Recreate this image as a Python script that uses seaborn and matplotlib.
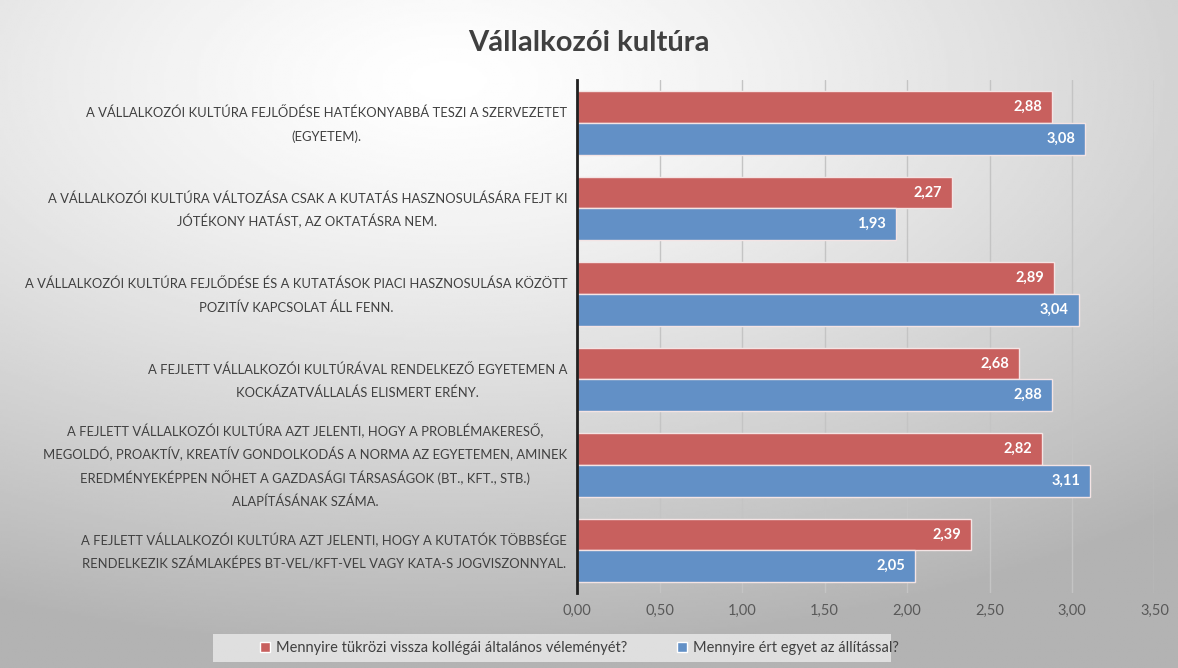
import numpy as np
import pandas as pd
import matplotlib
matplotlib.use("Agg")
import matplotlib.pyplot as plt
import seaborn as sns
from matplotlib.ticker import FuncFormatter, MultipleLocator
from matplotlib.patches import Patch, Rectangle

# --- data ---
allitasok = [
    "A VÁLLALKOZÓI KULTÚRA FEJLŐDÉSE HATÉKONYABBÁ TESZI A SZERVEZETET\n(EGYETEM).",
    "A VÁLLALKOZÓI KULTÚRA VÁLTOZÁSA CSAK A KUTATÁS HASZNOSULÁSÁRA FEJT KI\nJÓTÉKONY HATÁST, AZ OKTATÁSRA NEM.",
    "A VÁLLALKOZÓI KULTÚRA FEJLŐDÉSE ÉS A KUTATÁSOK PIACI HASZNOSULÁSA KÖZÖTT\nPOZITÍV KAPCSOLAT ÁLL FENN.",
    "A FEJLETT VÁLLALKOZÓI KULTÚRÁVAL RENDELKEZŐ EGYETEMEN A\nKOCKÁZATVÁLLALÁS ELISMERT ERÉNY.",
    "A FEJLETT VÁLLALKOZÓI KULTÚRA AZT JELENTI, HOGY A PROBLÉMAKERESŐ,\nMEGOLDÓ, PROAKTÍV, KREATÍV GONDOLKODÁS A NORMA AZ EGYETEMEN, AMINEK\nEREDMÉNYEKÉPPEN NŐHET A GAZDASÁGI TÁRSASÁGOK (BT., KFT., STB.)\nALAPÍTÁSÁNAK SZÁMA.",
    "A FEJLETT VÁLLALKOZÓI KULTÚRA AZT JELENTI, HOGY A KUTATÓK TÖBBSÉGE\nRENDELKEZIK SZÁMLAKÉPES BT-VEL/KFT-VEL VAGY KATA-S JOGVISZONNYAL.",
]
sorozatok = ["Mennyire tükrözi vissza kollégái általános véleményét?",
             "Mennyire ért egyet az állítással?"]
kollegak = [2.88, 2.27, 2.89, 2.68, 2.82, 2.39]
egyetert = [3.08, 1.93, 3.04, 2.88, 3.11, 2.05]

df = pd.DataFrame({
    "allitas": allitasok * 2,
    "kerdes": [sorozatok[0]] * len(allitasok) + [sorozatok[1]] * len(allitasok),
    "ertek": kollegak + egyetert,
})

szinek = ["#C8605E", "#6290C6"]

sns.set_style("white")
plt.rcParams["font.family"] = ["Lato", "DejaVu Sans"]

fig = plt.figure(figsize=(11.78, 6.68), dpi=100)

# gradient background
bg = fig.add_axes([0, 0, 1, 1], zorder=-10)
yy, xx = np.mgrid[0:1:300j, 0:1:500j]
r = np.sqrt(((xx - 0.38) * 1.0) ** 2 + ((yy - 0.12) * 1.1) ** 2)
shade = 1.0 - 0.30 * np.clip(r / 0.95, 0, 1) ** 1.3
bg.imshow(shade, cmap="gray", vmin=0, vmax=1, aspect="auto", extent=[0, 1, 1, 0])
bg.set_axis_off()

ax = fig.add_axes([0.49, 0.112, 0.49, 0.768])
ax.set_facecolor("none")
sns.barplot(data=df, y="allitas", x="ertek", hue="kerdes", orient="h",
            palette=szinek, width=0.74, edgecolor="#F4E4E4", linewidth=1,
            saturation=1, legend=False, ax=ax)

ax.set_xlim(0, 3.5)
ax.xaxis.set_major_locator(MultipleLocator(0.5))
ax.xaxis.set_major_formatter(FuncFormatter(lambda v, p: f"{v:.2f}".replace(".", ",")))
ax.grid(axis="x", color="#C4C4C4", linewidth=1)
ax.set_axisbelow(True)
for s in ["top", "right", "bottom"]:
    ax.spines[s].set_visible(False)
ax.spines["left"].set_color("#202020")
ax.spines["left"].set_linewidth(2)
ax.set_xlabel("")
ax.set_ylabel("")
ax.tick_params(axis="x", direction="in", length=9, color="#808080",
               labelsize=10.5, labelcolor="#595959", pad=8)
ax.tick_params(axis="y", length=0)
ax.set_yticklabels([])

# category labels: each line drawn separately so line spacing stays even
renderer = fig.canvas.get_renderer()
sor_kozt = 23.5  # px between lines
for i, lbl in enumerate(allitasok):
    sorok = lbl.split("\n")
    szeles = []
    for s in sorok:
        t = fig.text(0, 0, s, fontsize=9.4)
        szeles.append(t.get_window_extent(renderer).width)
        t.remove()
    kozep = -10 - max(szeles) / 2
    for j, s in enumerate(sorok):
        dy = (j - (len(sorok) - 1) / 2) * sor_kozt
        ax.annotate(s, xy=(0, i), xycoords=("axes fraction", "data"),
                    xytext=(kozep, -dy - 6), textcoords="offset pixels",
                    ha="center", va="baseline", fontsize=9.4, color="#404040",
                    annotation_clip=False)

# value labels inside bar ends
for cont in ax.containers:
    anns = ax.bar_label(cont, labels=[f"{w:.2f}".replace(".", ",") for w in cont.datavalues],
                        padding=-7, color="white", fontweight="bold", fontsize=10.5)
    for a in anns:
        a.set_ha("right")

fig.text(0.5, 0.935, "Vállalkozói kultúra", ha="center", va="center",
         fontsize=21, fontweight="bold", color="#404040")

# legend with its own light box behind it
fig.patches.append(Rectangle((0.181, 0.009), 0.575, 0.042, transform=fig.transFigure,
                             facecolor="#F2F2F2", alpha=0.7, edgecolor="none", zorder=1))
handles = [Patch(facecolor=c) for c in szinek]
fig.legend(handles, sorozatok, loc="center", bbox_to_anchor=(0.492, 0.03), ncol=2,
           frameon=False, fontsize=10.5, labelcolor="#404040",
           handlelength=0.7, handleheight=0.7, handletextpad=0.4, columnspacing=3.4)

fig.savefig("out.png", dpi=100)
